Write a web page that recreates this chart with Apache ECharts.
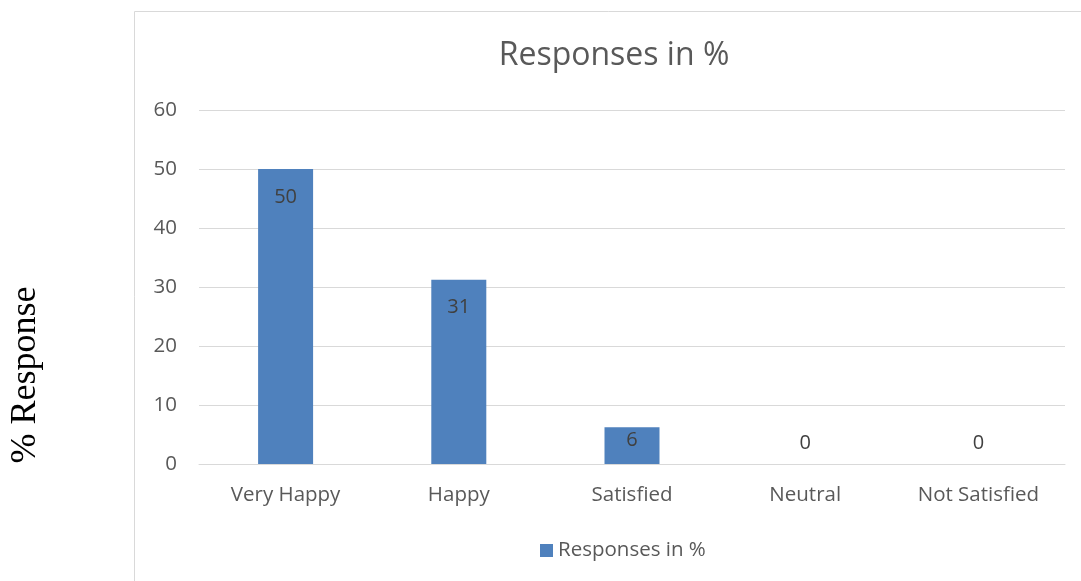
<!DOCTYPE html>
<html>
<head>
<meta charset="utf-8">
<script src="https://cdn.jsdelivr.net/npm/echarts@6/dist/echarts.min.js"></script>
<style>
html,body{margin:0;padding:0;background:#fff;}
#main{width:1081px;height:581px;}
</style>
</head>
<body>
<div id="main"></div>
<script>
var categories = ['Very Happy', 'Happy', 'Satisfied', 'Neutral', 'Not Satisfied'];
var responses = [50, 31.25, 6.25, 0, 0];
var yTicks = [0, 10, 20, 30, 40, 50, 60];

var chart = echarts.init(document.getElementById('main'));
var font = 'Open Sans';

// Excel-like "inside end" labels; short bars keep the label near the top, zero bars above the axis
var barData = responses.map(function (v) {
  var dist = v >= 10 ? 18 : (v > 0 ? 3 : 11);
  return {
    value: v,
    label: { position: v > 0 ? 'insideTop' : 'top', distance: dist }
  };
});

chart.setOption({
  animation: false,
  title: {
    text: 'Responses in %',
    left: 609, top: 35, textAlign: 'center',
    textStyle: { fontFamily: font, fontSize: 32, fontWeight: 'normal', color: '#595959' }
  },
  graphic: [
    { type: 'rect', shape: { x: 134.5, y: 11.5, width: 1000, height: 700 },
      style: { fill: 'none', stroke: '#d9d9d9', lineWidth: 1 }, silent: true },
    { type: 'text', x: 26, y: 375, rotation: Math.PI / 2,
      style: { text: '% Response', fontFamily: 'Liberation Serif', fontSize: 36,
        fill: '#000', align: 'center', verticalAlign: 'middle' } }
  ],
  legend: {
    bottom: 15, left: 535,
    itemWidth: 13, itemHeight: 13, itemGap: 7,
    icon: 'rect',
    textStyle: { fontFamily: font, fontSize: 20.5, color: '#595959' },
    data: ['Responses in %']
  },
  grid: { left: 199, right: 16, top: 110, bottom: 117, containLabel: false },
  xAxis: {
    type: 'category', data: categories,
    axisLine: { lineStyle: { color: '#d9d9d9', width: 1 } },
    axisTick: { show: false },
    axisLabel: { fontFamily: font, fontSize: 20.5, color: '#595959', margin: 21 }
  },
  yAxis: {
    type: 'value', min: yTicks[0], max: yTicks[yTicks.length - 1], interval: 10,
    axisLine: { show: false }, axisTick: { show: false },
    splitLine: { lineStyle: { color: '#d9d9d9', width: 1 } },
    axisLabel: { fontFamily: font, fontSize: 20.5, color: '#595959', margin: 22 }
  },
  series: [{
    name: 'Responses in %',
    type: 'bar', barWidth: 55,
    itemStyle: { color: '#4f81bd' },
    label: {
      show: true, fontFamily: font, fontSize: 20, color: '#404040',
      formatter: function (p) { return Math.round(p.value); }
    },
    data: barData
  }]
});
</script>
</body>
</html>
